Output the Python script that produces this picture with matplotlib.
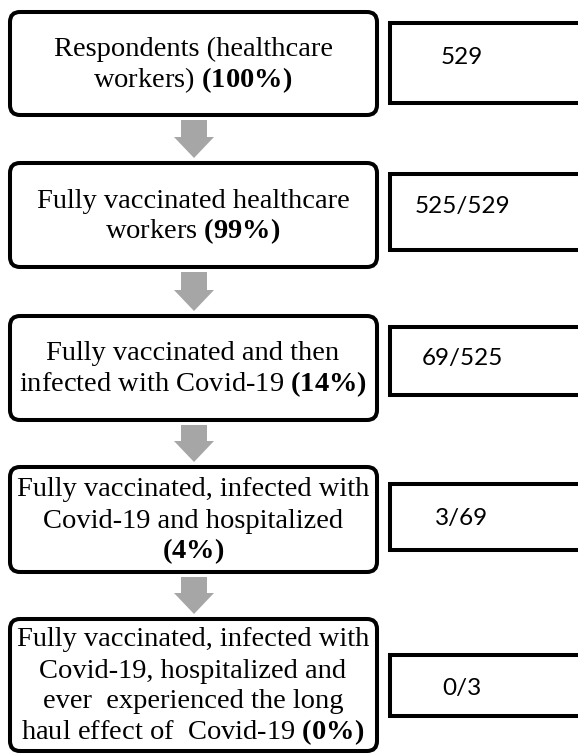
import matplotlib
matplotlib.use('Agg')
import matplotlib.pyplot as plt
from matplotlib.patches import FancyBboxPatch, Rectangle, FancyArrow

plt.rcParams['mathtext.fontset'] = 'custom'
plt.rcParams['mathtext.rm'] = 'Liberation Serif'
plt.rcParams['mathtext.bf'] = 'Liberation Serif:bold'

# contenido del diagrama
etapas = [
    'Respondents (healthcare\nworkers)',
    'Fully vaccinated healthcare\nworkers',
    'Fully vaccinated and then\ninfected with Covid-19',
    'Fully vaccinated, infected with\nCovid-19 and hospitalized\n',
    'Fully vaccinated, infected with\nCovid-19, hospitalized and\never  experienced the long\nhaul effect of  Covid-19',
]
porcentajes = ['100%', '99%', '14%', '4%', '0%']
conteos = ['529', '525/529', '69/525', '3/69', '0/3']

# posiciones en pixeles (y hacia abajo)
caja_izq = [(12, 115), (163, 267), (316, 420), (467, 572), (619, 751)]
caja_der = [(23, 103), (174, 250), (327, 395), (484, 550), (655, 716)]
y_conteo = [57, 206, 358, 518, 688]
xc = 193
paso = 31

fig = plt.figure(figsize=(5.78, 7.54), dpi=100)
ax = fig.add_axes([0, 0, 1, 1])
ax.set_xlim(0, 578)
ax.set_ylim(754, 0)
ax.axis('off')

for i in range(len(etapas)):
    y0, y1 = caja_izq[i]
    ax.add_patch(FancyBboxPatch((10, y0), 367, y1 - y0,
                                boxstyle='round,pad=0,rounding_size=10',
                                fc='white', ec='black', lw=2.9))
    pct = r'$\mathbf{(' + porcentajes[i].replace('%', r'\%') + ')}$'
    lineas = etapas[i].split('\n')
    if lineas[-1] == '':
        lineas[-1] = pct
    else:
        lineas[-1] = lineas[-1] + ' ' + pct
    n = len(lineas)
    yc = (y0 + y1) / 2
    for j, linea in enumerate(lineas):
        yb = yc + (j - (n - 1) / 2) * paso + 8
        ax.text(xc, yb, linea, ha='center', va='baseline',
                fontsize=20.5, family='Liberation Serif')

    r0, r1 = caja_der[i]
    ax.add_patch(Rectangle((390, r0), 230, r1 - r0, fc='white', ec='black', lw=2.9))
    ax.text(462, y_conteo[i], conteos[i], ha='center', va='center',
            fontsize=17.5, family='Lato')

    if i < len(etapas) - 1:
        a0 = y1 + 5
        a1 = caja_izq[i + 1][0] - 5
        ax.add_patch(FancyArrow(xc + 1, a0, 0, a1 - a0, width=26, head_width=40,
                                head_length=21, length_includes_head=True,
                                fc='#a6a6a6', ec='none'))

plt.savefig('out.png', dpi=100)
